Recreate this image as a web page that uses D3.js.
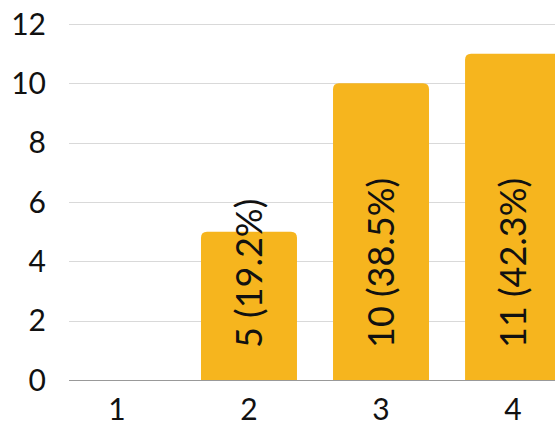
<!DOCTYPE html>
<html>
<head>
<meta charset="utf-8">
<script src="https://cdn.jsdelivr.net/npm/d3@7"></script>
<style>
  body { margin: 0; background: #fff; }
  svg { display: block; font-family: Lato, "Open Sans", sans-serif; }
</style>
</head>
<body>
<script>
// chart data
var categories = ['1', '2', '3', '4'];
var counts = [0, 5, 10, 11];
var percents = ['0%', '19.2%', '38.5%', '42.3%'];
var yTicks = [0, 2, 4, 6, 8, 10, 12];

var width = 555, height = 423;
var barColor = '#F6B51E';
var gridColor = '#d9d9d9';

var svg = d3.select('body').append('svg')
  .attr('width', width)
  .attr('height', height);

// plot area (right side is cut off like the reference)
var plotLeft = 69, plotBottom = 380, plotTop = 24;

var x = d3.scaleBand()
  .domain(categories)
  .range([51, 579])
  .paddingInner(0.273)
  .paddingOuter(0.136);

var y = d3.scaleLinear()
  .domain([0, 12])
  .range([plotBottom, plotTop]);

// gridlines
svg.append('g')
  .selectAll('line')
  .data(yTicks.filter(function(d) { return d > 0; }))
  .enter()
  .append('line')
  .attr('x1', plotLeft)
  .attr('x2', width)
  .attr('y1', function(d) { return Math.round(y(d)) + 0.5; })
  .attr('y2', function(d) { return Math.round(y(d)) + 0.5; })
  .attr('stroke', gridColor)
  .attr('stroke-width', 1);

// y tick labels
svg.append('g')
  .selectAll('text')
  .data(yTicks)
  .enter()
  .append('text')
  .text(function(d) { return d; })
  .attr('x', 46)
  .attr('y', function(d) { return y(d); })
  .attr('dy', '0.36em')
  .attr('text-anchor', 'end')
  .attr('font-size', '30px')
  .attr('fill', '#111');

// bars with rounded top corners
var r = 6;
var rows = categories.map(function(c, i) {
  return { cat: c, value: counts[i], pct: percents[i] };
});

svg.append('g')
  .selectAll('path')
  .data(rows.filter(function(d) { return d.value > 0; }))
  .enter()
  .append('path')
  .attr('d', function(d) {
    var x0 = x(d.cat), x1 = x0 + x.bandwidth();
    var y0 = y(d.value), y1 = y(0);
    return 'M' + x0 + ',' + y1 +
      'V' + (y0 + r) +
      'Q' + x0 + ',' + y0 + ' ' + (x0 + r) + ',' + y0 +
      'H' + (x1 - r) +
      'Q' + x1 + ',' + y0 + ' ' + x1 + ',' + (y0 + r) +
      'V' + y1 + 'Z';
  })
  .attr('fill', barColor);

// baseline
svg.append('line')
  .attr('x1', plotLeft)
  .attr('x2', width)
  .attr('y1', plotBottom + 0.5)
  .attr('y2', plotBottom + 0.5)
  .attr('stroke', '#999')
  .attr('stroke-width', 1);

// x labels
svg.append('g')
  .selectAll('text')
  .data(categories)
  .enter()
  .append('text')
  .text(function(d) { return d; })
  .attr('x', function(d) { return x(d) + x.bandwidth() / 2; })
  .attr('y', 420)
  .attr('text-anchor', 'middle')
  .attr('font-size', '30px')
  .attr('fill', '#111');

// value labels, rotated inside the bars
svg.append('g')
  .selectAll('text')
  .data(rows.filter(function(d) { return d.value > 0; }))
  .enter()
  .append('text')
  .text(function(d) { return d.value + ' (' + d.pct + ')'; })
  .attr('transform', function(d) {
    var cx = x(d.cat) + x.bandwidth() / 2;
    return 'translate(' + cx + ',' + (plotBottom - 32) + ')rotate(-90)';
  })
  .attr('dy', '0.36em')
  .attr('text-anchor', 'start')
  .attr('font-size', '36px')
  .attr('fill', '#111');
</script>
</body>
</html>
